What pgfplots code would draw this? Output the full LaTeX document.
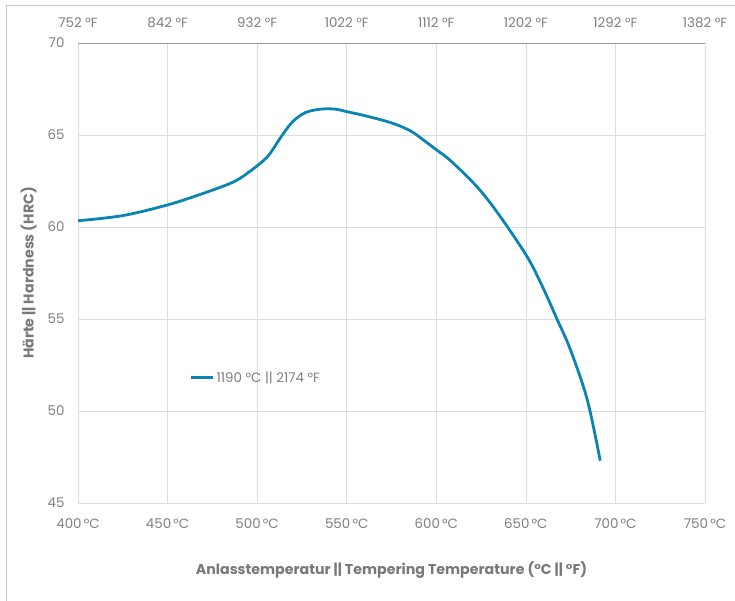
\documentclass[border=0pt]{standalone}
\usepackage{pgfplots}
\pgfplotsset{compat=1.18}
\usepackage{fontspec}
\setmainfont{Poppins}
\definecolor{txt}{HTML}{7F7F7F}
\definecolor{ttl}{HTML}{787878}
\definecolor{grd}{HTML}{DDDDDD}
\definecolor{ln}{HTML}{0A84B4}
\definecolor{frm}{HTML}{C8C8C8}
\begin{document}
\begin{tikzpicture}[x=1pt,y=1pt]
\useasboundingbox (0,0) rectangle (735,601);
\draw[frm,line width=0.8pt] (6,0) -- (6,596) -- (735,596);
\begin{axis}[
  at={(78pt,98pt)}, anchor=south west,
  scale only axis, width=627pt, height=460pt,
  xmin=400, xmax=750, ymin=45, ymax=70,
  xtick={400,450,...,750}, ytick={45,50,...,70},
  xticklabel={\pgfmathprintnumber{\tick}\,°C},
  /pgf/number format/assume math mode=true,
  /pgf/number format/1000 sep={},
  major tick length=0pt,
  grid=major, major grid style={grd, line width=0.7pt},
  axis line style={grd, line width=0.7pt},
  axis x line*=bottom, axis y line*=left,
  tick label style={font=\fontsize{13.4}{15}\selectfont, text=txt},
  xticklabel style={yshift=-12pt},
  yticklabel style={xshift=-10pt},
  xlabel={Anlasstemperatur || Tempering Temperature (°C || °F)},
  ylabel={Härte || Hardness (HRC)},
  label style={font=\fontsize{14.2}{17}\selectfont\bfseries, text=ttl},
  xlabel style={yshift=-26pt},
  ylabel style={yshift=4pt},
  legend style={at={(0.178,0.272)}, anchor=west, draw=none, fill=none,
    font=\fontsize{13.4}{15}\selectfont, text=txt, inner sep=0pt},
  legend image code/.code={\draw[#1] (0pt,0pt) -- (22pt,0pt);},
]
\addplot[ln, line width=2.8pt, smooth, tension=0.55] coordinates {
(400,60.34) (425,60.62) (450,61.2) (470,61.83) (487,62.46) (497,63.1)
(506,63.85) (513,64.85) (519.6,65.7) (527,66.22) (536,66.41) (544,66.4)
(550,66.27) (561,66.03) (575.6,65.64) (586,65.2) (594,64.64) (600,64.2)
(608,63.6) (622.6,62.2) (634,60.8) (650,58.5) (658.4,56.94) (667.6,54.95)
(675,53.3) (684.3,50.6) (691.5,47.3)
};
\addlegendentry{1190 °C || 2174 °F}
\end{axis}
\begin{axis}[
  at={(78pt,98pt)}, anchor=south west,
  scale only axis, width=627pt, height=460pt,
  xmin=400, xmax=750, ymin=45, ymax=70,
  axis x line*=top, hide y axis,
  xtick={400,450,...,750},
  xticklabels={752 °F,842 °F,932 °F,1022 °F,1112 °F,1202 °F,1292 °F,1382 °F},
  major tick length=0pt,
  axis line style={black!40, line width=0.7pt},
  tick label style={font=\fontsize{13.4}{15}\selectfont, text=txt},
  xticklabel style={yshift=12pt},
]
\end{axis}
\end{tikzpicture}
\end{document}
